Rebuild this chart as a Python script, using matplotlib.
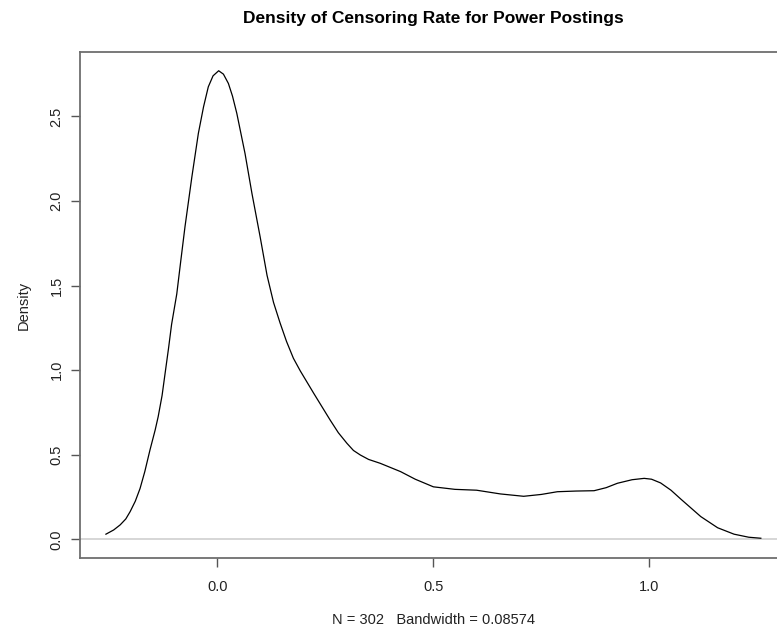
import matplotlib
matplotlib.use('Agg')
import matplotlib.pyplot as plt

# Density curve (censoring rate vs density)
rate = [-0.258, -0.240, -0.225, -0.212, -0.202, -0.190, -0.179, -0.168, -0.156,
        -0.144, -0.137, -0.128, -0.121, -0.113, -0.106, -0.094, -0.085, -0.075,
        -0.059, -0.044, -0.032, -0.021, -0.010, 0.003, 0.014, 0.0255, 0.035,
        0.045, 0.064, 0.080, 0.099, 0.115, 0.130, 0.145, 0.160, 0.176, 0.192,
        0.223, 0.261, 0.280, 0.300, 0.315, 0.331, 0.350, 0.377, 0.424, 0.458,
        0.50, 0.55, 0.60, 0.655, 0.709, 0.75, 0.787, 0.83, 0.872, 0.90, 0.926,
        0.96, 0.988, 1.005, 1.026, 1.05, 1.073, 1.119, 1.158, 1.196, 1.230,
        1.258]
density = [0.030, 0.055, 0.085, 0.120, 0.163, 0.225, 0.300, 0.400, 0.528,
           0.646, 0.725, 0.850, 0.981, 1.130, 1.270, 1.450, 1.640, 1.847,
           2.143, 2.400, 2.557, 2.675, 2.740, 2.770, 2.750, 2.695, 2.620,
           2.518, 2.281, 2.045, 1.788, 1.560, 1.400, 1.280, 1.170, 1.070, 0.995,
           0.863, 0.705, 0.630, 0.567, 0.525, 0.498, 0.472, 0.449, 0.400, 0.355,
           0.310, 0.295, 0.290, 0.268, 0.254, 0.265, 0.281, 0.285, 0.287, 0.305,
           0.331, 0.352, 0.360, 0.355, 0.333, 0.290, 0.237, 0.134, 0.068, 0.030,
           0.012, 0.006]

x_ticks = [0.0, 0.5, 1.0]
y_ticks = [0.0, 0.5, 1.0, 1.5, 2.0, 2.5]

plt.rcParams['font.family'] = ['Liberation Sans', 'DejaVu Sans']

fig = plt.figure(figsize=(7.77, 6.32), dpi=100)
ax = fig.add_axes([0.1026, 0.1171, 0.9103, 0.8006])

ax.axhline(0, color='#d0d0d0', lw=1.2, zorder=1)
ax.plot(rate, density, color='black', lw=0.9, zorder=2)

span = rate[-1] - rate[0]
ax.set_xlim(rate[0] - 0.04 * span, rate[-1] + 0.04 * span)
top = max(density)
ax.set_ylim(-0.04 * top, top * 1.04)

ax.set_xticks(x_ticks)
ax.set_xticklabels(['%.1f' % v for v in x_ticks])
ax.set_yticks(y_ticks)
ax.set_yticklabels(['%.1f' % v for v in y_ticks], rotation=90, va='center')

for s in ax.spines.values():
    s.set_color('#6e6e6e')
    s.set_linewidth(1.3)
ax.tick_params(axis='both', length=6.5, width=1.0, color='#555555',
               labelsize=10.5, labelcolor='#222222')
ax.tick_params(axis='x', pad=9)
ax.tick_params(axis='y', pad=5)

ax.set_xlabel('N = 302   Bandwidth = 0.08574', fontsize=10.5, labelpad=14,
              color='#222222')
ax.set_ylabel('Density', fontsize=10.5, labelpad=14, color='#222222')
# R centres the title over the plot region, not the figure
fig.text(0.1026 + 0.9103 / 2, 1 - 18 / 632.0,
         'Density of Censoring Rate for Power Postings',
         ha='center', va='center', fontsize=12.5, fontweight='bold')

fig.savefig('out.png', dpi=100)
